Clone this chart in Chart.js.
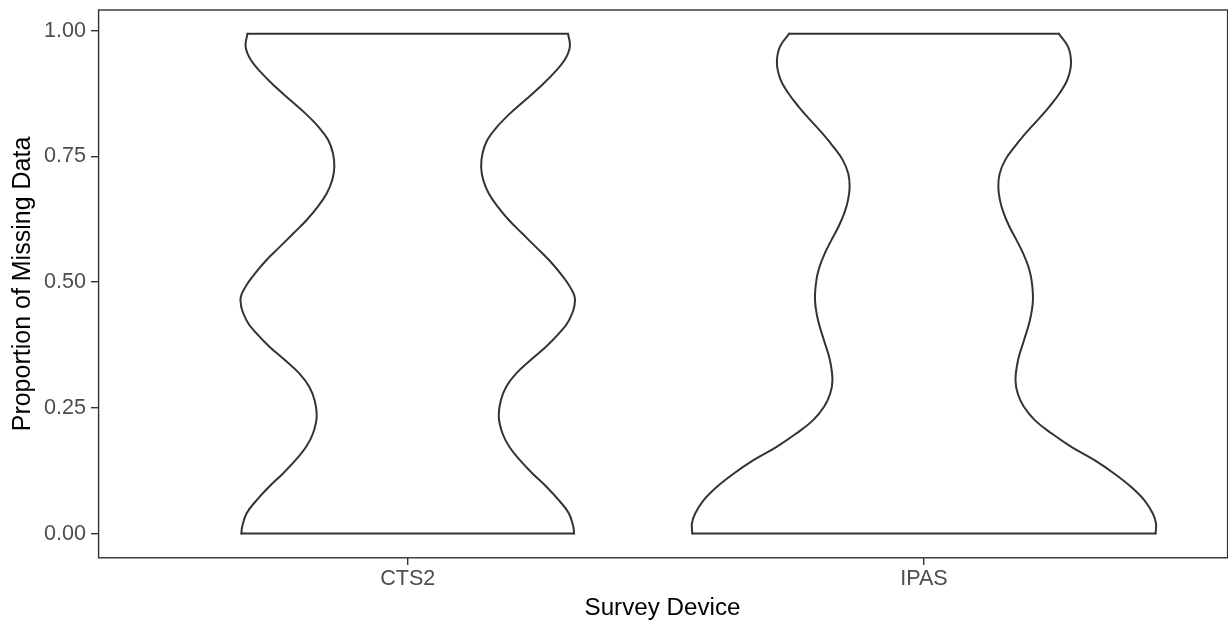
<!DOCTYPE html>
<html>
<head>
<meta charset="utf-8">
<script src="https://cdn.jsdelivr.net/npm/chart.js@4.4.1/dist/chart.umd.min.js"></script>
<style>
  html, body { margin: 0; padding: 0; background: #ffffff; }
  #wrap { width: 1228px; height: 622px; }
</style>
</head>
<body>
<div id="wrap"><canvas id="c" width="1228" height="622"></canvas></div>
<script>
// ---- data ----
const categories = ['CTS2', 'IPAS'];
const yTicks = [0, 0.25, 0.5, 0.75, 1.0];

// CTS2: y values and relative density (1 = widest violin)
const cts2Y = [0.000, 0.013, 0.040, 0.066, 0.093, 0.119, 0.146, 0.172, 0.199, 0.232,
               0.265, 0.292, 0.318, 0.345, 0.371, 0.398, 0.424, 0.464, 0.491, 0.517,
               0.544, 0.570, 0.597, 0.623, 0.650, 0.676, 0.703, 0.729, 0.756, 0.783,
               0.809, 0.836, 0.862, 0.889, 0.915, 0.942, 0.968, 0.994];
const cts2Density = [0.716, 0.713, 0.694, 0.651, 0.597, 0.538, 0.483, 0.438, 0.408, 0.392,
                     0.401, 0.424, 0.466, 0.529, 0.594, 0.651, 0.694, 0.720, 0.698, 0.658,
                     0.608, 0.551, 0.492, 0.436, 0.387, 0.349, 0.325, 0.316, 0.322, 0.343,
                     0.385, 0.442, 0.506, 0.571, 0.628, 0.676, 0.698, 0.690];

// IPAS: y values and relative density
const ipasY = [0.000, 0.020, 0.040, 0.066, 0.093, 0.119, 0.146, 0.172, 0.199, 0.225,
               0.252, 0.278, 0.305, 0.345, 0.385, 0.424, 0.464, 0.504, 0.530, 0.557,
               0.584, 0.610, 0.637, 0.663, 0.690, 0.716, 0.743, 0.769, 0.796, 0.822,
               0.849, 0.875, 0.902, 0.935, 0.968, 0.994];
const ipasDensity = [0.997, 0.999, 0.985, 0.949, 0.891, 0.820, 0.734, 0.636, 0.550, 0.478,
                     0.430, 0.404, 0.394, 0.405, 0.431, 0.456, 0.469, 0.463, 0.450, 0.427,
                     0.398, 0.368, 0.343, 0.327, 0.320, 0.326, 0.350, 0.390, 0.438, 0.489,
                     0.540, 0.583, 0.617, 0.633, 0.620, 0.580];

// ---- build datasets ----
const HALF_WIDTH = 0.45; // half of ggplot's 0.9 violin width, in category units
const violins = [
  { pos: 1, y: cts2Y, d: cts2Density },
  { pos: 2, y: ipasY, d: ipasDensity }
];
const LINE = '#333333';
const datasets = [];
violins.forEach(v => {
  const left = v.y.map((y, i) => ({ x: v.pos - v.d[i] * HALF_WIDTH, y }));
  const right = v.y.map((y, i) => ({ x: v.pos + v.d[i] * HALF_WIDTH, y }));
  const n = v.y.length - 1;
  const base = { showLine: true, pointRadius: 0, borderColor: LINE, borderWidth: 2, fill: false,
                 borderCapStyle: 'round', borderJoinStyle: 'round' };
  datasets.push(Object.assign({}, base, { data: left, tension: 0.4 }));
  datasets.push(Object.assign({}, base, { data: right, tension: 0.4 }));
  datasets.push(Object.assign({}, base, { data: [left[0], right[0]], tension: 0 }));
  datasets.push(Object.assign({}, base, { data: [left[n], right[n]], tension: 0 }));
});

Chart.defaults.font.family = '"Liberation Sans", Arial, Helvetica, sans-serif';

const borderPlugin = {
  id: 'panelBorder',
  afterDatasetsDraw(chart) {
    const { ctx, chartArea: a } = chart;
    ctx.save();
    ctx.strokeStyle = LINE;
    ctx.lineWidth = 1.4;
    ctx.strokeRect(a.left + 0.6, a.top, a.right - a.left, a.bottom - a.top - 0.2);
    ctx.restore();
  }
};

new Chart(document.getElementById('c'), {
  type: 'scatter',
  data: { datasets },
  plugins: [borderPlugin],
  options: {
    responsive: false,
    devicePixelRatio: 1,
    animation: false,
    layout: { padding: { top: 10, right: 1, left: 0, bottom: 0 } },
    plugins: { legend: { display: false }, tooltip: { enabled: false } },
    scales: {
      x: {
        type: 'linear',
        min: 0.4,
        max: 2.587,
        afterBuildTicks: s => { s.ticks = categories.map((c, i) => ({ value: i + 1 })); },
        afterFit: s => { s.height = 64; s.paddingLeft = 0; s.paddingRight = 0; },
        ticks: {
          callback: (v, i) => categories[i],
          color: '#4D4D4D',
          font: { size: 21.6 },
          padding: 1.5,
          autoSkip: false,
          maxRotation: 0
        },
        grid: { drawOnChartArea: false, drawTicks: true, tickLength: 7, color: LINE, lineWidth: 1.4 },
        border: { display: false },
        title: {
          display: true, text: 'Survey Device', color: '#000000',
          font: { size: 24.2, lineHeight: 1 }, padding: { top: 0, bottom: 1.5 }
        }
      },
      y: {
        type: 'linear',
        min: -0.0486,
        max: 1.041,
        afterBuildTicks: s => { s.ticks = yTicks.map(v => ({ value: v })); },
        afterFit: s => { s.width = 98; s.paddingTop = 0; s.paddingBottom = 0; },
        ticks: {
          callback: v => Number(v).toFixed(2),
          color: '#4D4D4D',
          font: { size: 21.6 },
          padding: 5,
          autoSkip: false
        },
        grid: { drawOnChartArea: false, drawTicks: true, tickLength: 7, color: LINE, lineWidth: 1.4 },
        border: { display: false },
        title: {
          display: true, text: 'Proportion of Missing Data', color: '#000000',
          font: { size: 25, lineHeight: 1 }, padding: { top: 11, bottom: 0 }
        }
      }
    }
  }
});
</script>
</body>
</html>
